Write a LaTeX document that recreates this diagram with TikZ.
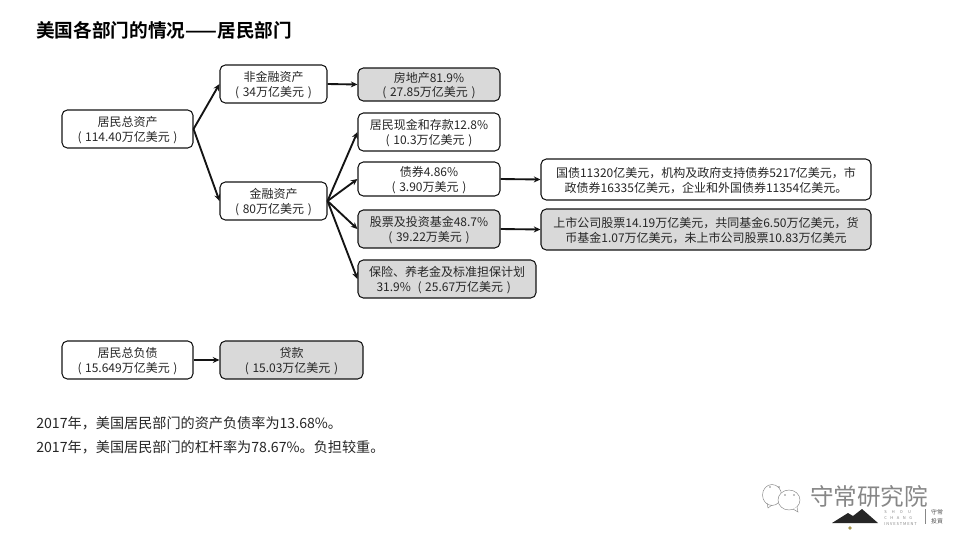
\documentclass[tikz,border=0pt]{standalone}
\usepackage{fontspec}
\setmainfont{Noto Sans CJK SC}[BoldFont={Noto Sans CJK SC Bold}]
\usetikzlibrary{arrows.meta}
\definecolor{boxgray}{RGB}{217,217,217}
\definecolor{linedark}{RGB}{20,20,20}
\definecolor{logogray}{RGB}{135,135,135}
\tikzset{
  px/.style={x=0.75pt,y=-0.75pt},
  boxbase/.style={draw=linedark,line width=0.8pt,rounded corners=4pt,align=center,font=\fontsize{9}{10.9}\selectfont,inner sep=0pt,text=black!85},
  plainbox/.style={boxbase,fill=white},
  graybox/.style={boxbase,fill=boxgray},
  conn/.style={draw=linedark,line width=1.4pt,-{Stealth[length=5pt,width=4.5pt]}},
  bodytext/.style={anchor=west,font=\fontsize{10.6}{12}\selectfont,text=black!85,inner sep=0pt},
}
\newcommand{\lp}{\kern.55em(\kern.3em}
\newcommand{\rp}{\kern.3em)\kern.55em}
\newcommand{\bx}[7]{\node[#1,minimum width=#4*0.75pt,minimum height=#5*0.75pt] (#2) at (#3) {\rule{0pt}{9.6pt}#6\\#7};}
\begin{document}
\begin{tikzpicture}[px]
\useasboundingbox (0,0) rectangle (960,540);
\fill[white] (0,0) rectangle (960,540);
\node[anchor=west,inner sep=0pt,font=\fontsize{14}{15}\selectfont\bfseries] (title) at (36,30) {美国各部门的情况——居民部门};

\bx{plainbox}{a}{127.5,129}{131}{38}{居民总资产}{\lp 114.40万亿美元\rp}
\bx{plainbox}{b}{273.5,84}{107}{38}{非金融资产}{\lp 34万亿美元\rp}
\bx{plainbox}{c}{273.5,201}{107}{38}{金融资产}{\lp 80万亿美元\rp}
\bx{graybox}{d}{429,84.5}{142}{33}{房地产81.9\%}{\lp 27.85万亿美元\rp}
\bx{plainbox}{e}{429,132}{142}{38}{居民现金和存款12.8\%}{\lp 10.3万亿美元\rp}
\bx{plainbox}{f}{429,179}{142}{34}{债券4.86\%}{\lp 3.90万美元\rp}
\bx{graybox}{g}{429,229}{142}{38}{股票及投资基金48.7\%}{\lp 39.22万美元\rp}
\bx{graybox}{h}{447,279}{178}{38}{保险、养老金及标准担保计划}{31.9\%\lp 25.67万亿美元\rp}
\bx{plainbox}{i}{706,179.5}{330}{41}{国债11320亿美元，机构及政府支持债券5217亿美元，市}{政债券16335亿美元，企业和外国债券11354亿美元。}
\bx{graybox}{j}{706,229.5}{330}{41}{上市公司股票14.19万亿美元，共同基金6.50万亿美元，货}{币基金1.07万亿美元，未上市公司股票10.83万亿美元}
\bx{plainbox}{k}{127.5,360}{131}{38}{居民总负债}{\lp 15.649万亿美元\rp}
\bx{graybox}{l}{291.5,360}{143}{38}{贷款}{\lp 15.03万亿美元\rp}

\draw[conn] (a.east) -- (b.west);
\draw[conn] (a.east) -- (c.west);
\draw[conn] (b.east) -- (d.west);
\draw[conn] (c.east) -- (e.west);
\draw[conn] (c.east) -- (f.west);
\draw[conn] (c.east) -- (g.west);
\draw[conn] (c.east) -- (h.west);
\draw[conn] (f.east) -- (i.west);
\draw[conn] (g.east) -- (j.west);
\draw[conn] (k.east) -- (l.west);

\node[bodytext] (t1) at (36,423) {2017年，美国居民部门的资产负债率为13.68\%。};
\node[bodytext] (t2) at (36,447) {2017年，美国居民部门的杠杆率为78.67\%。负担较重。};

% logo
\draw[logogray,line width=0.35pt] (772,495) ellipse (9.5 and 10.5);
\draw[logogray,line width=0.35pt] (767,503) -- (768,508) -- (772,505);
\draw[logogray,line width=0.35pt,fill=white] (789,500) ellipse (11 and 10);
\draw[logogray,line width=0.35pt,fill=white] (793,509) -- (798,512) -- (797,507);
\fill[logogray] (770,487) circle (0.8) (779,487) circle (0.8) (785,495) circle (0.8) (794,495) circle (0.8);
\node[inner sep=0pt,font=\fontsize{17.7}{18}\selectfont,text=logogray] (logo) at (869,496) {守常研究院};
\fill[black!85] (832,523) -- (848,513) -- (853,516) -- (862,509) -- (878,523) -- cycle;
\fill[black!45!yellow!70!brown] (850,528) circle (1.8);
\node[inner sep=0pt,align=left,font=\fontsize{3}{4.4}\selectfont,text=logogray,anchor=west] (logosub) at (884,518) {S\kern1.3em H\kern1.3em O\kern1.3em U\\C\kern.9em H\kern.9em A\kern.9em N\kern.9em G\\I N V E S T M E N T};
\draw[logogray,line width=0.3pt] (925,509) -- (925,524);
\node[inner sep=0pt,align=center,font=\fontsize{4.4}{6.5}\selectfont,text=black!70] (logoside) at (937,517) {守常\\投資};
\end{tikzpicture}
\end{document}
